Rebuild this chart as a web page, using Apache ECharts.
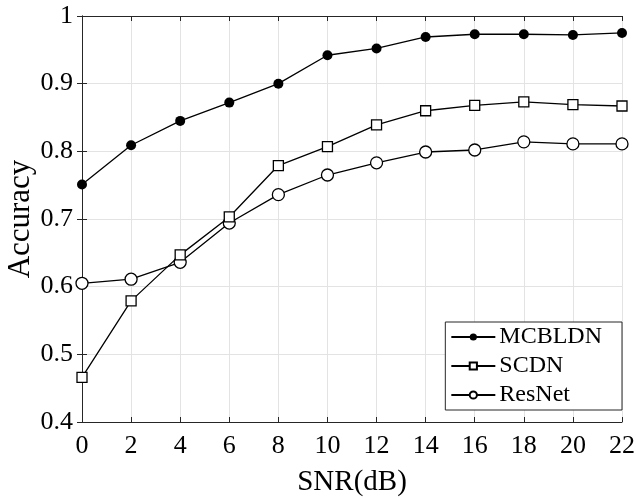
<!DOCTYPE html>
<html>
<head>
<meta charset="utf-8">
<script src="https://cdn.jsdelivr.net/npm/echarts@6/dist/echarts.min.js"></script>
<style>
  html, body { margin: 0; padding: 0; background: #fff; }
  #chart { width: 636px; height: 498px; }
</style>
</head>
<body>
<div id="chart"></div>
<script>
// SNR values on the x axis
const snr = [0, 2, 4, 6, 8, 10, 12, 14, 16, 18, 20, 22];
// accuracy per model
const mcbldn = [0.751, 0.809, 0.845, 0.872, 0.900, 0.942, 0.952, 0.969, 0.973, 0.973, 0.972, 0.975];
const scdn = [0.466, 0.579, 0.647, 0.703, 0.779, 0.807, 0.839, 0.860, 0.868, 0.873, 0.869, 0.867];
const resnet = [0.605, 0.611, 0.636, 0.694, 0.736, 0.765, 0.783, 0.799, 0.802, 0.814, 0.811, 0.811];

const font = 'Liberation Serif, Times New Roman, serif';
const axisCol = '#262626';

function pairs(ys) {
  return snr.map((x, i) => [x, ys[i]]);
}

const chart = echarts.init(document.getElementById('chart'));

const option = {
  backgroundColor: '#fff',
  animation: false,
  textStyle: { fontFamily: font, color: '#000' },
  grid: { left: 82, right: 14, top: 16, bottom: 76, outerBoundsMode: 'none', containLabel: false },
  legend: {
    right: 14,
    bottom: 88,
    orient: 'vertical',
    backgroundColor: '#fff',
    borderColor: axisCol,
    borderWidth: 1,
    borderRadius: 0,
    padding: [3, 20, 3, 5],
    itemGap: 5,
    itemWidth: 44,
    itemHeight: 9,
    textStyle: { fontFamily: font, fontSize: 24, color: '#000', padding: [0, 0, 0, -1] },
    data: ['MCBLDN', 'SCDN', 'ResNet']
  },
  xAxis: [{
    type: 'value',
    min: 0, max: 22, interval: 2,
    name: 'SNR(dB)',
    nameLocation: 'middle',
    nameGap: 46,
    nameMoveOverlap: false,
    nameTextStyle: { fontFamily: font, fontSize: 29, color: '#000' },
    axisLine: { lineStyle: { color: axisCol, width: 1 } },
    axisTick: { inside: true, length: 5, lineStyle: { color: axisCol } },
    axisLabel: { fontFamily: font, fontSize: 26, color: '#000', margin: 11 },
    splitLine: { show: true, lineStyle: { color: '#e3e3e3', width: 1 } }
  }, {
    type: 'value',
    position: 'top',
    min: 0, max: 22, interval: 2,
    axisLine: { lineStyle: { color: axisCol, width: 1 } },
    axisTick: { inside: true, length: 5, lineStyle: { color: axisCol } },
    axisLabel: { show: false },
    splitLine: { show: false }
  }],
  yAxis: [{
    type: 'value',
    min: 0.4, max: 1, interval: 0.1,
    name: 'Accuracy',
    nameLocation: 'middle',
    nameGap: 46,
    nameMoveOverlap: false,
    nameTextStyle: { fontFamily: font, fontSize: 31, color: '#000' },
    axisLine: { show: true, lineStyle: { color: axisCol, width: 1 } },
    axisTick: { show: true, inside: true, length: 5, lineStyle: { color: axisCol } },
    axisLabel: { fontFamily: font, fontSize: 26, color: '#000', margin: 9 },
    splitLine: { show: true, lineStyle: { color: '#e3e3e3', width: 1 } }
  }, {
    type: 'value',
    position: 'right',
    min: 0.4, max: 1, interval: 0.1,
    axisLine: { show: true, lineStyle: { color: axisCol, width: 1 } },
    axisTick: { show: true, inside: true, length: 5, lineStyle: { color: axisCol } },
    axisLabel: { show: false },
    splitLine: { show: false }
  }],
  series: [{
    name: 'MCBLDN',
    type: 'line',
    data: pairs(mcbldn),
    symbol: 'circle',
    symbolSize: 10,
    lineStyle: { color: '#000', width: 1.3 },
    itemStyle: { color: '#000' },
    z: 4
  }, {
    name: 'SCDN',
    type: 'line',
    data: pairs(scdn),
    symbol: 'rect',
    symbolSize: 10,
    lineStyle: { color: '#000', width: 1.3 },
    itemStyle: { color: '#fff', borderColor: '#000', borderWidth: 1.3 },
    z: 3
  }, {
    name: 'ResNet',
    type: 'line',
    data: pairs(resnet),
    symbol: 'circle',
    symbolSize: 12,
    lineStyle: { color: '#000', width: 1.3 },
    itemStyle: { color: '#fff', borderColor: '#000', borderWidth: 1.3 },
    z: 2
  }]
};

option && chart.setOption(option);
</script>
</body>
</html>
